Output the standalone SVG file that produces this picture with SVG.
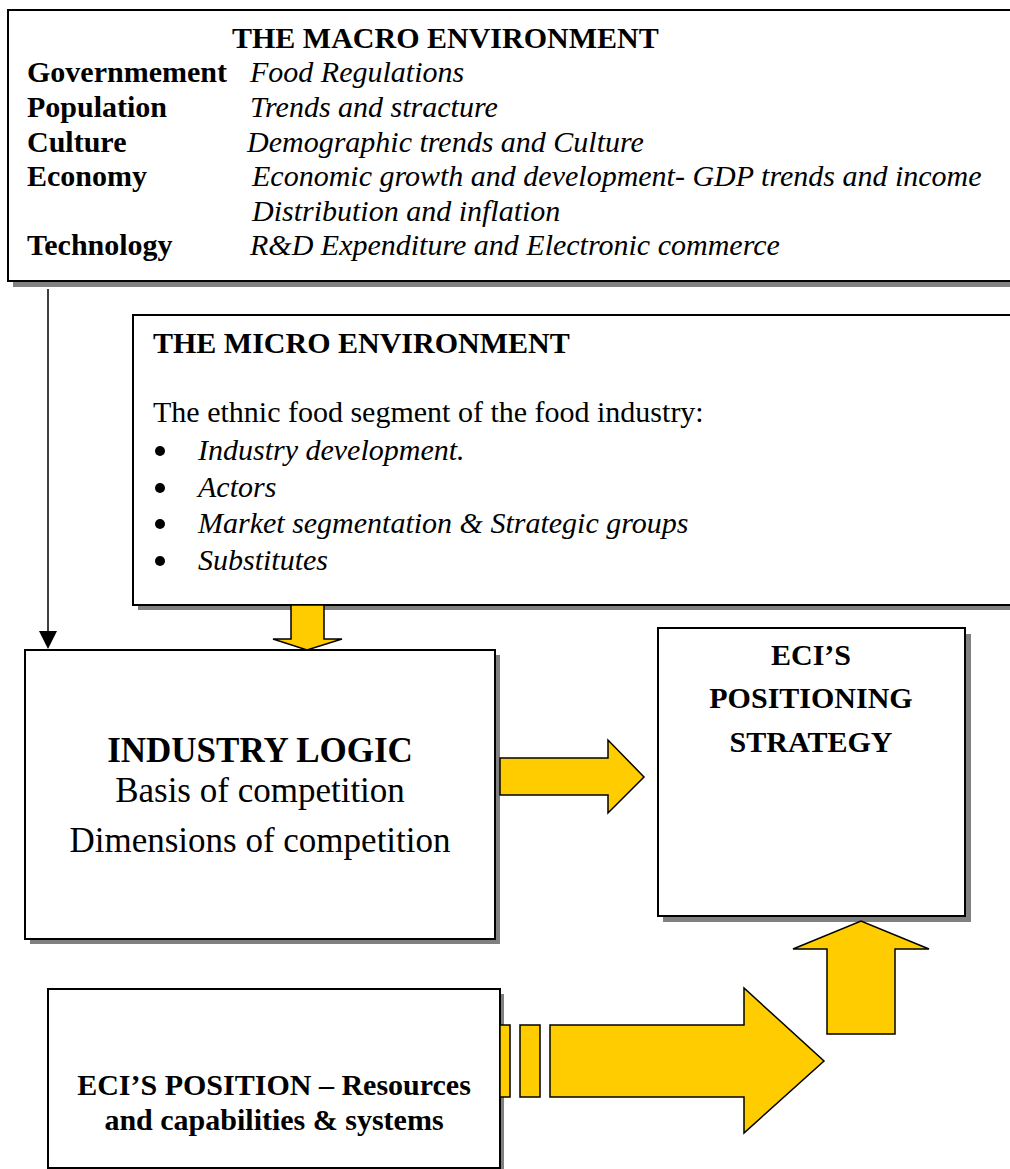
<svg xmlns="http://www.w3.org/2000/svg" width="1010" height="1169" viewBox="0 0 1010 1169">
  <style>
    .shadow { fill: #808080; }
    .box { fill: #ffffff; stroke: #000000; stroke-width: 2; }
    .t { font-family: "Liberation Serif", "Times New Roman", serif; font-size: 30px; fill: #000000; }
    .b { font-weight: bold; }
    .i { font-style: italic; }
    .big { font-size: 35px; }
    .mid { text-anchor: middle; }
    .bullet { fill: #000000; }
    .yarrow { fill: #ffcc00; stroke: #000000; stroke-width: 1.5; stroke-linejoin: miter; }
    .wire { stroke: #000000; stroke-width: 1.5; fill: none; }
  </style>

  <!-- Macro environment -->
  <g id="macro-environment">
    <rect class="shadow" x="13" y="15" width="1010" height="272"/>
    <rect class="box" x="8" y="10" width="1010" height="271"/>
    <text class="t b" x="232" y="48">THE MACRO ENVIRONMENT</text>
    <text class="t b" x="27" y="82">Governmement</text>
    <text class="t i" x="250" y="82">Food Regulations</text>
    <text class="t b" x="27" y="117">Population</text>
    <text class="t i" x="250" y="117">Trends and stracture</text>
    <text class="t b" x="27" y="152">Culture</text>
    <text class="t i" x="247" y="152">Demographic trends and Culture</text>
    <text class="t b" x="27" y="186">Economy</text>
    <text class="t i" x="252" y="186">Economic growth and development- GDP trends and income</text>
    <text class="t i" x="252" y="221">Distribution and inflation</text>
    <text class="t b" x="27" y="255">Technology</text>
    <text class="t i" x="250" y="255">R&amp;D Expenditure and Electronic commerce</text>
  </g>

  <!-- Micro environment -->
  <g id="micro-environment">
    <rect class="shadow" x="138" y="320" width="900" height="290"/>
    <rect class="box" x="133" y="315" width="900" height="290"/>
    <text class="t b" x="153" y="353">THE MICRO ENVIRONMENT</text>
    <text class="t" x="153" y="422">The ethnic food segment of the food industry:</text>
    <circle class="bullet" cx="160" cy="451" r="5"/>
    <text class="t i" x="198" y="460">Industry development.</text>
    <circle class="bullet" cx="160" cy="488" r="5"/>
    <text class="t i" x="198" y="497">Actors</text>
    <circle class="bullet" cx="160" cy="524" r="5"/>
    <text class="t i" x="198" y="533">Market segmentation &amp; Strategic groups</text>
    <circle class="bullet" cx="160" cy="561" r="5"/>
    <text class="t i" x="198" y="570">Substitutes</text>
  </g>

  <!-- Industry logic -->
  <g id="industry-logic">
    <rect class="shadow" x="30" y="655" width="470" height="289"/>
    <rect class="box" x="25" y="650" width="470" height="289"/>
    <text class="t b big mid" x="260" y="762">INDUSTRY LOGIC</text>
    <text class="t big mid" x="260" y="802">Basis of competition</text>
    <text class="t big mid" x="260" y="852">Dimensions of competition</text>
  </g>

  <!-- Positioning strategy -->
  <g id="positioning-strategy">
    <rect class="shadow" x="663" y="634" width="308" height="288"/>
    <rect class="box" x="658" y="628" width="307" height="288"/>
    <text class="t b mid" x="811" y="665">ECI’S</text>
    <text class="t b mid" x="811" y="708">POSITIONING</text>
    <text class="t b mid" x="811" y="752">STRATEGY</text>
  </g>

  <!-- Resources and capabilities -->
  <g id="eci-position">
    <rect class="shadow" x="52" y="994" width="452" height="180"/>
    <rect class="box" x="48" y="989" width="452" height="179"/>
    <text class="t b mid" x="274" y="1095">ECI’S POSITION – Resources</text>
    <text class="t b mid" x="274" y="1130">and capabilities &amp; systems</text>
  </g>

  <!-- Connectors -->
  <g id="connectors">
    <line class="wire" x1="48" y1="289" x2="48" y2="632"/>
    <polygon points="39,631 57,631 48,649" fill="#000000"/>
    <polygon class="yarrow" points="291,605 324,605 324,639 342,639 307,650 273,639 291,639"/>
    <polygon class="yarrow" points="500,758 608,758 608,740 644,777 608,813 608,795 500,795"/>
    <polygon class="yarrow" points="827,1034 827,949 793,949 861,921 929,949 895,949 895,1034"/>
    <rect class="yarrow" x="500" y="1025" width="10" height="72"/>
    <rect class="yarrow" x="520" y="1025" width="20" height="72"/>
    <polygon class="yarrow" points="550,1025 744,1025 744,988 824,1061 744,1133 744,1097 550,1097"/>
  </g>
</svg>
